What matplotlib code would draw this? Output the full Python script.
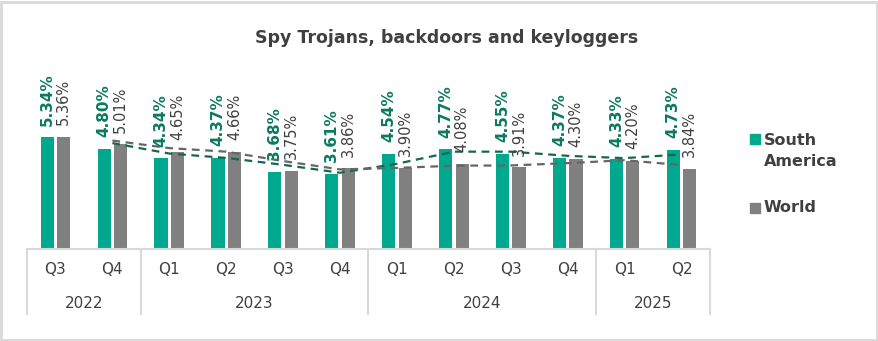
import matplotlib.pyplot as plt
from matplotlib.patches import Rectangle
from matplotlib.transforms import blended_transform_factory

quarters = ["Q3", "Q4", "Q1", "Q2", "Q3", "Q4", "Q1", "Q2", "Q3", "Q4", "Q1", "Q2"]
years = ["2022", "2023", "2024", "2025"]
year_spans = [(0, 1), (2, 5), (6, 9), (10, 11)]
south_america = [5.34, 4.80, 4.34, 4.37, 3.68, 3.61, 4.54, 4.77, 4.55, 4.37, 4.33, 4.73]
world = [5.36, 5.01, 4.65, 4.66, 3.75, 3.86, 3.90, 4.08, 3.91, 4.30, 4.20, 3.84]
# 2-period moving average trend lines, as drawn (start at the 2nd quarter)
sa_trend = [5.07, 4.57, 4.36, 4.03, 3.65, 4.08, 4.66, 4.66, 4.46, 4.35, 4.53]
world_trend = [5.19, 4.83, 4.66, 4.21, 3.81, 3.88, 3.99, 4.00, 4.11, 4.25, 4.02]

TEAL = "#00a88e"
TEAL_DARK = "#0b7a5e"
TEAL_LINE = "#17664f"
GREY = "#808080"
GREY_LINE = "#666666"
TEXT = "#404040"
RULE = "#d9d9d9"

W, H = 879, 341
fig = plt.figure(figsize=(W / 100, H / 100), dpi=100)
fig.patch.set_facecolor("white")
fig.patches.append(Rectangle((1 / W, 1 / H), 1 - 3 / W, 1 - 3 / H, transform=fig.transFigure,
                             fill=False, edgecolor=RULE, lw=2))

# axes placed in pixel units
x0, x1, ybase, ytop = 27, 710, 249, 61
ax = fig.add_axes([x0 / W, (H - ybase) / H, (x1 - x0) / W, (ybase - ytop) / H])
ax.set_xlim(-0.5, 11.5)
ax.set_ylim(0, 9.0)
ax.axis("off")

xs = list(range(len(quarters)))
off, bw = 0.145, 0.23
ax.bar([x - off for x in xs], south_america, width=bw, color=TEAL, zorder=2)
ax.bar([x + off for x in xs], world, width=bw, color=GREY, zorder=2)

ax.plot(xs[1:], sa_trend, color=TEAL_LINE, lw=1.6, ls=(0, (3.5, 2.5)), zorder=3)
ax.plot(xs[1:], world_trend, color=GREY_LINE, lw=1.6, ls=(0, (3.5, 2.5)), zorder=3)

for x, v in zip(xs, south_america):
    ax.annotate(f"{v:.2f}%", (x - off, v), xytext=(0, 8.5), textcoords="offset points",
                rotation=90, ha="center", va="bottom", fontsize=11, fontweight="bold",
                color=TEAL_DARK, zorder=4)
for x, v in zip(xs, world):
    ax.annotate(f"{v:.2f}%", (x + off, v), xytext=(0, 8.5), textcoords="offset points",
                rotation=90, ha="center", va="bottom", fontsize=10.5,
                color=TEXT, zorder=4)

# two-level category axis
tr = blended_transform_factory(ax.transData, ax.transAxes)
axh = ybase - ytop
ax.plot([-0.5, 11.5], [0, 0], color=RULE, lw=1.5, transform=tr, clip_on=False)
for sx in [-0.5, 1.5, 5.5, 9.5, 11.5]:
    ax.plot([sx, sx], [0, -65 / axh], color=RULE, lw=1.5, transform=tr, clip_on=False)
for x, q in zip(xs, quarters):
    ax.text(x, -21 / axh, q, transform=tr, ha="center", va="center", fontsize=11, color=TEXT)
for (a, b), yr in zip(year_spans, years):
    ax.text((a + b) / 2, -54 / axh, yr, transform=tr, ha="center", va="center",
            fontsize=11, color=TEXT)

fig.text(447 / W, 1 - 38 / H, "Spy Trojans, backdoors and keyloggers", ha="center",
         va="center", fontsize=12.5, fontweight="bold", color=TEXT)

# legend
for (ym, label, col, ty) in [(139, "South\nAmerica", TEAL, 151), (208, "World", GREY, 208)]:
    fig.patches.append(Rectangle((750 / W, 1 - (ym + 5) / H), 10 / W, 10 / H,
                                 transform=fig.transFigure, color=col))
    fig.text(764 / W, 1 - ty / H, label, ha="left", va="center", fontsize=11.5,
             fontweight="bold", color=TEXT, linespacing=1.5)

fig.savefig("out.png", dpi=100)
